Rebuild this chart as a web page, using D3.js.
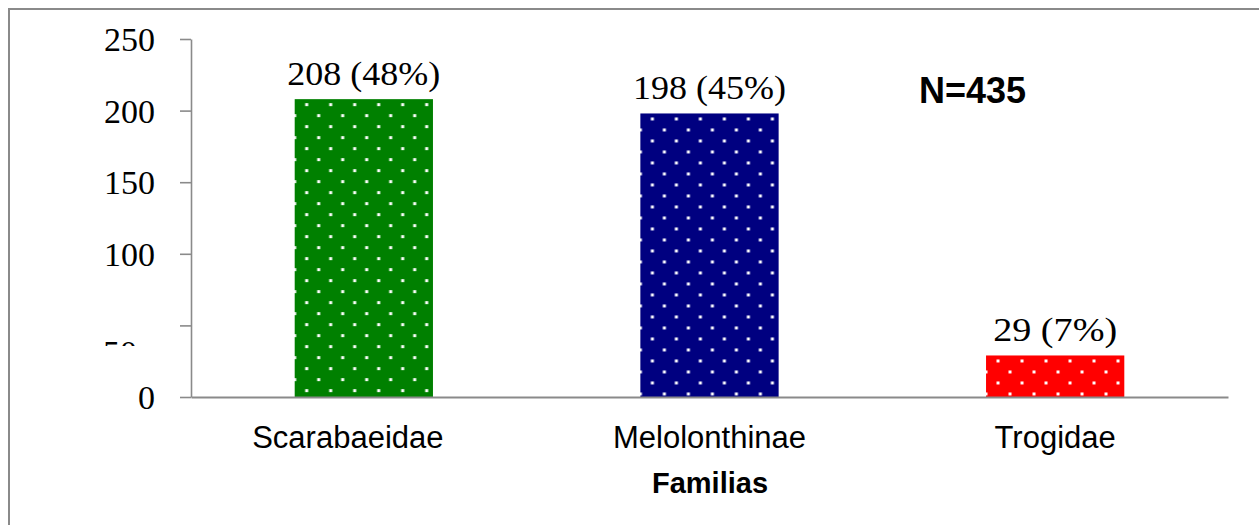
<!DOCTYPE html>
<html>
<head>
<meta charset="utf-8">
<script src="https://cdn.jsdelivr.net/npm/d3@7"></script>
<style>
  html, body { margin: 0; padding: 0; background: #fff; overflow: hidden; }
  svg { display: block; }
</style>
</head>
<body>
<script>
const categories = ["Scarabaeidae", "Melolonthinae", "Trogidae"];
const counts = [208, 198, 29];
const percents = [48, 45, 7];
const colors = ["#008000", "#000080", "#ff0000"];
const yTicks = [0, 50, 100, 150, 200, 250];
const xTitle = "Familias";
const annotation = "N=435";

const W = 1259, H = 525;
const svg = d3.select("body").append("svg").attr("width", W).attr("height", H);

// outer frame
svg.append("rect").attr("x", 9).attr("y", 9).attr("width", 1400).attr("height", 700)
  .attr("fill", "#fff").attr("stroke", "#8a8a8a").attr("stroke-width", 2);

const x = d3.scaleBand().domain(categories).range([191, 1228]).paddingInner(0.6).paddingOuter(0.3);
const y = d3.scaleLinear().domain([0, 250]).range([397, 39]);

const defs = svg.append("defs");
categories.forEach((c, i) => {
  const p = defs.append("pattern").attr("id", "pat" + i)
    .attr("patternUnits", "userSpaceOnUse")
    .attr("x", x(c)).attr("y", y(counts[i]))
    .attr("width", 24).attr("height", 22);
  p.append("rect").attr("width", 24).attr("height", 22).attr("fill", colors[i]);
  [[10.5, 4], [-1.5, 15], [22.5, 15]].forEach(([dx, dy]) => {
    p.append("rect").attr("x", dx).attr("y", dy).attr("width", 3).attr("height", 3)
      .attr("fill", "#fff");
  });
});

// bars
svg.append("g").selectAll("rect").data(categories).join("rect")
  .attr("x", d => x(d))
  .attr("y", (d, i) => y(counts[i]))
  .attr("width", x.bandwidth())
  .attr("height", (d, i) => y(0) - y(counts[i]))
  .attr("fill", (d, i) => "url(#pat" + i + ")");

// y axis
const yAxis = svg.append("g").attr("transform", "translate(191,0)")
  .call(d3.axisLeft(y).tickValues(yTicks).tickSize(11).tickSizeOuter(0).tickPadding(25).tickFormat(d3.format("d")));
yAxis.select(".domain").attr("stroke", "#8a8a8a").attr("stroke-width", 1.6);
yAxis.selectAll(".tick line").attr("stroke", "#8a8a8a").attr("stroke-width", 1.6);
yAxis.selectAll(".tick text")
  .attr("font-family", "'Liberation Serif', 'Times New Roman', serif")
  .attr("font-size", 34).attr("fill", "#000").attr("dy", "0.34em");

// the "50" label in the reference is mostly hidden; only its top shows
const clip = defs.append("clipPath").attr("id", "clip50");
clip.append("rect").attr("x", -200).attr("y", -100).attr("width", 300).attr("height", 120);
yAxis.selectAll(".tick").filter(d => d === 50).select("text")
  .attr("x", -54).attr("dy", null).attr("y", 38)
  .attr("clip-path", "url(#clip50)");

// x axis
const xAxis = svg.append("g").attr("transform", "translate(0,397)")
  .call(d3.axisBottom(x).tickSize(0).tickSizeOuter(0).tickPadding(29));
xAxis.select(".domain").attr("stroke", "#8a8a8a").attr("stroke-width", 1.8);
xAxis.selectAll(".tick text")
  .attr("font-family", "'Liberation Sans', Arial, sans-serif")
  .attr("font-size", 31).attr("fill", "#000")
  .attr("dx", d => d === "Scarabaeidae" ? -16 : 0);

// value labels
svg.append("g").selectAll("text").data(categories).join("text")
  .attr("x", d => x(d) + x.bandwidth() / 2)
  .attr("y", (d, i) => y(counts[i]) - 14)
  .attr("text-anchor", "middle")
  .attr("font-family", "'Liberation Serif', 'Times New Roman', serif")
  .attr("font-size", 34).attr("fill", "#000")
  .attr("textLength", (d, i) => counts[i] >= 100 ? 153 : 124)
  .attr("lengthAdjust", "spacingAndGlyphs")
  .text((d, i) => `${counts[i]} (${percents[i]}%)`);

// axis title
svg.append("text").attr("x", 710).attr("y", 493).attr("text-anchor", "middle")
  .attr("font-family", "'Liberation Sans', Arial, sans-serif")
  .attr("font-size", 29).attr("font-weight", "bold").attr("fill", "#000")
  .text(xTitle);

// annotation
svg.append("text").attr("x", 919).attr("y", 103)
  .attr("font-family", "'Liberation Sans', Arial, sans-serif")
  .attr("font-size", 36).attr("font-weight", "bold").attr("fill", "#000")
  .text(annotation);
</script>
</body>
</html>
